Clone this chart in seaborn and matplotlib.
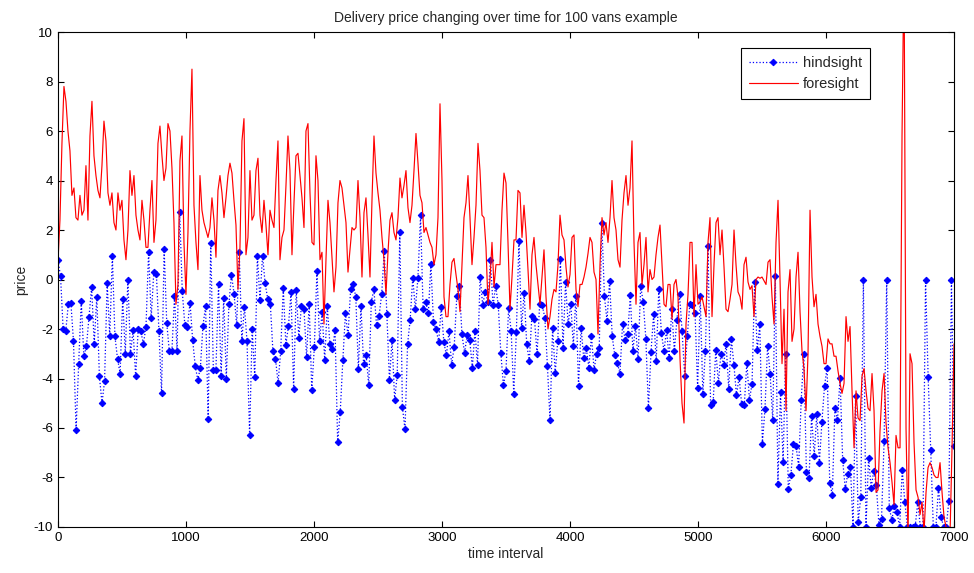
import numpy as np
import pandas as pd
import matplotlib
matplotlib.use("Agg")
import matplotlib.pyplot as plt
import seaborn as sns

# --- values ---
# hindsight: one point roughly every 20 time units
hindsight = [
    0.78, 0.13, -2.0, -2.1, -1.0, -0.95, -2.5, -6.1, -3.4, -0.86, -3.1, -2.7, -1.5, -0.3, -2.6,
    -0.7, -3.9, -5.0, -4.1, -0.13, -2.3, 0.97, -2.3, -3.2, -3.8, -0.77, -3.0, 0.0, -3.0, -2.05,
    -3.9, -2.0, -2.1, -2.6, -1.9, 1.13, -1.56, 0.3, 0.24, -2.1, -4.6, 1.25, -1.75, -2.9,
    -2.9, -0.66, -2.9, 2.72, -0.47, -1.85, -1.9, -0.93, -2.43, -3.5, -4.05, -3.56, -1.86, -1.08,
    -5.63, 1.46, -3.64, -3.64, -0.19, -3.88, -0.73, -4.03, -1.0, 0.19, -0.57, -1.85, 1.12, -2.48,
    -1.1, -2.48, -6.28, -2.0, -3.94, 0.97, -0.81, 0.97, -0.16, -0.78, -0.97, -2.9, -3.2, -4.18, -2.9,
    -0.34, -2.63, -1.89, -0.5, -4.42, -0.43, -2.35, -1.08, -1.21, -3.13, -0.97, -4.47, -2.72, 0.35,
    -2.48, -1.31, -3.26, -1.08, -2.61, -2.79, -2.05, -6.58, -5.35, -3.26, -1.37, -2.26, -0.4, -0.19,
    -0.7, -3.6, -1.08, -3.4, -3.06, -4.27, -0.89, -0.4, -1.83, -1.46, -0.59, 1.16, -1.4, -4.07,
    -2.45, -4.85,
    -3.87, 1.93, -5.15, -6.06, -2.61, -1.62, 0.08, -1.21, 0.08, 2.59, -1.21, -0.89, -1.37, 0.62,
    -1.73, -2.0, -2.53, -1.1, -2.53, -3.06, -2.09, -3.44, -2.72, -0.67, -0.27, -2.22, -2.96, -2.26,
    -2.45, -3.56, -2.09, -3.44, 0.11, -1.02, -0.5, -0.9, 0.78, -1.05, -0.26, -1.02, -2.96, -4.27, -3.69,
    -1.17, -2.09, -4.61, -2.14, 1.56, -1.94, -0.54, -2.61, -3.3, -1.47, -1.59, -3.02, -1.0, -1.05,
    -1.54, -3.5, -5.69, -1.94, -3.77, -2.48, 0.84, -2.78, -0.11, -1.81, -0.97, -2.67, -0.67, -4.31,
    -1.94, -3.17, -2.78, -3.56, -2.28, -3.64, -2.99, -2.78, 2.29, -0.67, -1.67, -0.05, -2.28, -3.06, -3.37,
    -3.8, -1.81, -2.43, -2.21, -0.63, -2.88, -1.89, -3.21, -0.27, -0.92, -2.39, -5.2, -2.92, -1.4,
    -3.3, -0.38, -2.16, -2.88, -2.05, -3.17, -1.19, -2.88, -1.62, -0.59, -2.09, -3.91, -2.29, -0.97,
    -1.05, -1.35, -4.38, -0.67, -4.61, -2.88, 1.37, -5.07, -4.95, -2.83, -4.18, -2.99, -3.44, -2.61,
    -4.41, -2.39,
    -3.44, -4.68, -3.94, -5.04, -5.09, -3.37, -4.85, -4.23, -0.09, -2.86, -1.81, -6.63, -5.23, -2.67,
    -3.83, -5.69, 0.13, -8.25, -4.56, -7.36, -2.99, -8.46, -7.88, -6.63, -6.74, -7.57, -4.85, -2.99,
    -7.79, -8.03, -5.5, -7.12, -5.44, -7.41, -5.74, -4.29, -3.56, -8.22, -8.69, -5.18, -5.69, -3.96,
    -7.3, -8.45,
    -7.84, -7.57, -10.0, -4.72, -9.81, -8.79, 0.0, -10.0, -7.2, -8.41, -7.74, -8.32, -9.92, -9.68,
    -6.52, 0.0, -9.25, -9.7, -9.14, -9.41, -10.0, -7.68, -9.0, -10.0, -10.0, -10.0, -9.97, -9.0,
    -10.0, -10.0, 0.0, -3.94, -6.9, -10.0, -10.0, -8.41, -9.6, -10.0, -10.0, -8.95, 0.0, -6.74,
]

# foresight: denser series, about every 15-16 time units
foresight = [
    0.7, 2.4, 5.5, 7.8, 7.2, 6.0, 5.2, 3.4, 3.7, 2.5, 2.4, 3.4, 2.6, 2.8, 4.6, 2.4, 5.8, 7.2, 5.0, 4.2,
    3.6, 3.3, 4.6, 6.4, 5.6, 3.5, 3.0, 3.5, 2.3, 2.0, 3.5, 2.8, 3.2, 1.6, 0.8, 2.0, 4.4, 3.4, 4.2, 2.6,
    2.0, 1.6, 3.2, 2.4, 1.3, 1.3, 2.8, 4.0, 1.5, 2.4, 5.5, 6.2, 5.0, 4.0, 4.5, 6.3,
    6.0, 4.5, 2.3, -1.0, -0.2, 4.8, 5.8, 1.5, -0.6, 1.9, 6.0, 8.5, 3.0, 1.5, 0.4, 4.2, 2.8, 2.3, 2.0, 1.7,
    2.1, 3.3, 2.4, 0.9, 3.6, 4.2, 3.5, 2.5, 3.3, 4.2, 4.7, 4.3, 3.2, 2.2, -0.4, 1.3, 5.6, 6.5, 1.0, 1.7,
    4.4, 2.4, 2.6, 4.4, 4.9, 2.6, 1.9, 3.2, 2.2, 1.0, 2.8, 2.4, 2.1, 4.0, 5.6, 0.8,
    1.7, 2.0, 3.8, 5.8, 4.4, 1.0, 3.1, 5.0, 5.1, 4.2, 3.3, 2.1, 6.0, 6.3, 3.5, 1.5, 1.4, 5.0, 4.0, 0.8,
    1.1, -1.8, 0.8, 3.2, 2.3, 0.9, -0.5, 0.5, 3.1, 4.0, 3.7, 3.0, 2.3, 0.3, 1.2, 2.1, 2.0, 2.1, 4.0, 2.5,
    0.1, 2.7, 3.3, 1.8, 0.1, 3.2, 5.8, 4.3, 3.5, 2.8, 1.7, 0.8, -0.6, 1.1, 2.4, 2.7,
    1.9, 1.6, 2.5, 4.1, 3.3, 3.8, 4.4, 2.9, 2.3, 3.0, 4.4, 5.9, 4.7, 3.4, 3.1, 1.9, 2.1, 1.8, 1.5, 1.3,
    0.6, 1.0, 2.5, 7.1, 4.0, -0.7, -1.5, -1.5, -0.2, 0.7, 0.85, 0.2, -0.4, -1.3, 0.6, 2.5, 3.1, 4.2, 2.5, 0.6,
    1.7, 3.0, 5.5, 4.4, 2.6, 2.5, 1.3, -1.0, 0.0, 1.5, -0.3, 0.6, 0.6, 0.6, 2.8, 4.3,
    3.9, 1.5, -1.2, 0.1, 1.6, 1.6, 3.6, 3.5, 1.7, 3.0, 1.9, 0.4, -1.2, 1.0, 1.7, 0.6, -0.2, -1.0, 0.1, 1.2,
    -0.7, -2.0, -1.5, -0.8, -0.4, -0.5, 0.6, 2.6, 1.8, 1.6, 0.5, -0.3, 0.2, 1.7, 1.8, -0.4, -1.1, -0.2, -0.2, 0.1,
    0.5, 1.05, 1.7, 1.5, 0.3, 0.0, -2.2, 0.6, 2.5, 1.8, 2.3, 1.5, 2.5, 4.0, 2.5, 2.0,
    0.8, 0.5, 2.4, 3.5, 4.2, 3.0, 3.7, 5.6, 1.5, -1.0, 1.5, 1.9, -0.2, 0.6, 1.7, -0.5, 0.4, 0.0, 0.1, 1.0,
    1.7, 2.2, 0.6, -1.0, -1.1, -0.2, -0.2, -1.6, -0.2, 0.0, -0.7, -3.2, -5.0, -5.8, -1.8, -0.6, 1.5, 1.5, -1.5, 0.6,
    -1.0, -0.9, -0.7, -1.1, -1.5, 1.5, 2.5, -1.5, 0.6, 2.3, 2.5, 1.0, 2.0, 0.5, -1.2, -1.3,
    -0.8, -0.2, 2.0, 0.6, -0.5, -0.7, -1.2, 0.6, 0.9, -0.1, -0.4, -0.25, -1.5, 0.0, 0.1, 0.05, 0.1, -0.05, -0.2, 0.7,
    0.8, -0.7, -1.8, 1.5, 3.2, 0.0, -3.4, -1.2, -5.3, -0.5, 0.4, -2.5, -2.0, 0.1, 1.1, -1.3, -2.9, -3.6, -5.3, -3.0,
    2.8, 0.1, -1.1, -0.6, -1.8, -2.3, -2.7, -3.4, -3.4, -2.4, -2.6, -2.6, -3.1, -3.1, -3.7, -4.2,
    -4.6, -4.2, -1.5, -2.5, -1.9, -4.5, -6.8, -4.5, -5.6, -5.7, -3.9, -3.6, -4.5, -5.2, -5.3, -3.8, -5.3, -8.6, -8.5, -6.1,
    -4.5, -3.8, -5.8, -6.8, -7.4, -8.2, -9.1, -6.3, -6.8, -6.8, 5.8, 13.0, -6.0, -10.5, -3.0, -3.4, -6.6, -8.5, -8.8, -9.5,
    -9.0, -10.2, -8.6, -7.6, -7.4, -7.6, -7.9, -8.0, -8.0, -7.4, -8.6, -9.6, -10.0, -10.3, -10.3, -6.8, -2.6,
]

t_end = 7000
hind_df = pd.DataFrame({"time": np.linspace(0, t_end, len(hindsight)), "price": hindsight})
fore_df = pd.DataFrame({"time": np.linspace(0, t_end, len(foresight)), "price": foresight})

sns.set_style("white")
plt.rcParams["font.family"] = ["Liberation Sans", "DejaVu Sans"]
plt.rcParams["axes.unicode_minus"] = False

fig = plt.figure(figsize=(9.74, 5.73), dpi=100)
ax = fig.add_axes([0.0595, 0.0803, 0.92, 0.8638])

sns.lineplot(data=hind_df, x="time", y="price", ax=ax, color="blue", linestyle=":",
             linewidth=0.9, marker="D", markersize=3.3, markeredgecolor="blue",
             markerfacecolor="blue", label="hindsight", sort=False)
sns.lineplot(data=fore_df, x="time", y="price", ax=ax, color="red", linewidth=0.85,
             label="foresight", sort=False)

ax.set_xlim(0, 7000)
ax.set_ylim(-10, 10)
ax.set_xticks(range(0, 7001, 1000))
ax.set_yticks(range(-10, 11, 2))
ax.tick_params(direction="in", length=4, width=0.8, labelsize=9.5, top=True, right=True,
               bottom=True, left=True, colors="black")
for s in ax.spines.values():
    s.set_color("black")
    s.set_linewidth(0.8)

ax.set_title("Delivery price changing over time for 100 vans example", fontsize=10, pad=7)
ax.set_xlabel("time interval", fontsize=10, labelpad=2)
ax.set_ylabel("price", fontsize=10, labelpad=4)

leg = ax.legend(loc="upper right", bbox_to_anchor=(0.914, 0.983), fancybox=False,
                framealpha=1, edgecolor="black", fontsize=10.5, handlelength=3.4,
                borderpad=0.55, labelspacing=0.5, handletextpad=0.3)
leg.get_frame().set_linewidth(0.8)

fig.savefig("out.png", dpi=100)
